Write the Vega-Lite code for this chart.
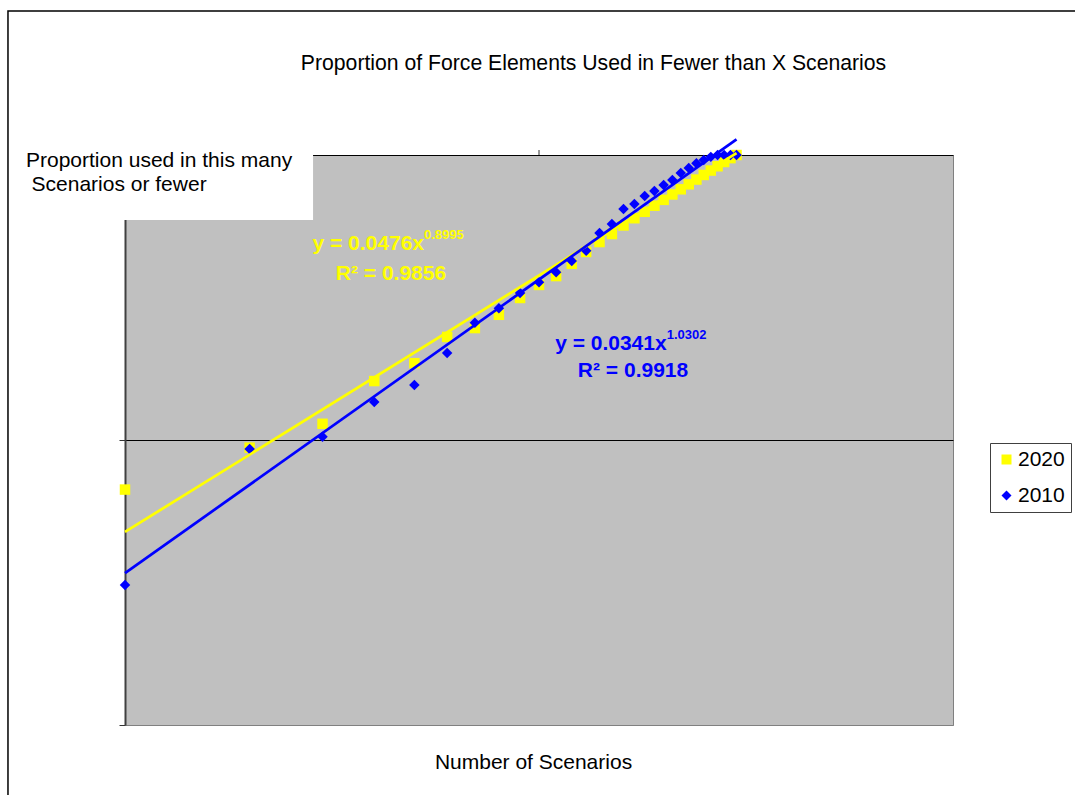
{
  "$schema": "https://vega.github.io/schema/vega-lite/v6.json",
  "width": 828,
  "height": 570,
  "autosize": {"type": "none"},
  "padding": {"left": 125, "top": 155, "right": 122, "bottom": 70},
  "background": "white",
  "datasets": {
    "points": [
      {"series": "2020", "x": 1, "y": 0.067},
      {"series": "2020", "x": 2, "y": 0.094},
      {"series": "2020", "x": 3, "y": 0.114},
      {"series": "2020", "x": 4, "y": 0.161},
      {"series": "2020", "x": 5, "y": 0.186},
      {"series": "2020", "x": 6, "y": 0.230},
      {"series": "2020", "x": 7, "y": 0.247},
      {"series": "2020", "x": 8, "y": 0.275},
      {"series": "2020", "x": 9, "y": 0.315},
      {"series": "2020", "x": 10, "y": 0.350},
      {"series": "2020", "x": 11, "y": 0.376},
      {"series": "2020", "x": 12, "y": 0.415},
      {"series": "2020", "x": 13, "y": 0.457},
      {"series": "2020", "x": 14, "y": 0.495},
      {"series": "2020", "x": 15, "y": 0.528},
      {"series": "2020", "x": 16, "y": 0.566},
      {"series": "2020", "x": 17, "y": 0.600},
      {"series": "2020", "x": 18, "y": 0.632},
      {"series": "2020", "x": 19, "y": 0.664},
      {"series": "2020", "x": 20, "y": 0.696},
      {"series": "2020", "x": 21, "y": 0.727},
      {"series": "2020", "x": 22, "y": 0.758},
      {"series": "2020", "x": 23, "y": 0.789},
      {"series": "2020", "x": 24, "y": 0.820},
      {"series": "2020", "x": 25, "y": 0.851},
      {"series": "2020", "x": 26, "y": 0.882},
      {"series": "2020", "x": 27, "y": 0.913},
      {"series": "2020", "x": 28, "y": 0.945},
      {"series": "2020", "x": 29, "y": 0.975},
      {"series": "2020", "x": 30, "y": 1.0},
      {"series": "2010", "x": 1, "y": 0.031},
      {"series": "2010", "x": 2, "y": 0.093},
      {"series": "2010", "x": 3, "y": 0.1027},
      {"series": "2010", "x": 4, "y": 0.136},
      {"series": "2010", "x": 5, "y": 0.156},
      {"series": "2010", "x": 6, "y": 0.202},
      {"series": "2010", "x": 7, "y": 0.258},
      {"series": "2010", "x": 8, "y": 0.290},
      {"series": "2010", "x": 9, "y": 0.328},
      {"series": "2010", "x": 10, "y": 0.358},
      {"series": "2010", "x": 11, "y": 0.388},
      {"series": "2010", "x": 12, "y": 0.425},
      {"series": "2010", "x": 13, "y": 0.461},
      {"series": "2010", "x": 14, "y": 0.532},
      {"series": "2010", "x": 15, "y": 0.573},
      {"series": "2010", "x": 16, "y": 0.647},
      {"series": "2010", "x": 17, "y": 0.673},
      {"series": "2010", "x": 18, "y": 0.718},
      {"series": "2010", "x": 19, "y": 0.748},
      {"series": "2010", "x": 20, "y": 0.785},
      {"series": "2010", "x": 21, "y": 0.817},
      {"series": "2010", "x": 22, "y": 0.865},
      {"series": "2010", "x": 23, "y": 0.900},
      {"series": "2010", "x": 24, "y": 0.935},
      {"series": "2010", "x": 25, "y": 0.960},
      {"series": "2010", "x": 26, "y": 0.985},
      {"series": "2010", "x": 27, "y": 1.0},
      {"series": "2010", "x": 28, "y": 1.0},
      {"series": "2010", "x": 29, "y": 1.0},
      {"series": "2010", "x": 30, "y": 1.0}
    ],
    "trend": [
      {"series": "2020", "x": 1, "y": 0.0476},
      {"series": "2020", "x": 30, "y": 1.015},
      {"series": "2010", "x": 1, "y": 0.0341},
      {"series": "2010", "x": 30, "y": 1.134}
    ]
  },
  "layer": [
    {
      "data": {"values": [{}]},
      "mark": {"type": "rect", "fill": "#ffffff", "strokeWidth": 0},
      "encoding": {
        "x": {"datum": 0.5246}, "x2": {"datum": 2.846},
        "y": {"datum": 1.016}, "y2": {"datum": 0.5914}
      }
    },
    {
      "data": {"values": [{}]},
      "mark": {"type": "text", "text": "Proportion used in this many", "align": "left", "baseline": "alphabetic", "fontSize": 21, "color": "#000000", "font": "Liberation Sans"},
      "encoding": {"x": {"datum": 0.5766}, "y": {"datum": 0.9098}}
    },
    {
      "data": {"values": [{}]},
      "mark": {"type": "text", "text": "Scenarios or fewer", "align": "left", "baseline": "alphabetic", "fontSize": 21, "color": "#000000", "font": "Liberation Sans"},
      "encoding": {"x": {"datum": 0.5947}, "y": {"datum": 0.7493}}
    },
    {
      "data": {"values": [{}]},
      "mark": {"type": "text", "text": "Proportion of Force Elements Used in Fewer than X Scenarios", "align": "center", "baseline": "alphabetic", "fontSize": 21.2, "color": "#000000", "font": "Liberation Sans"},
      "encoding": {"x": {"datum": 13.54}, "y": {"datum": 1.987}}
    },
    {
      "data": {"name": "points"},
      "mark": {"type": "point", "filled": true, "opacity": 1, "size": 110, "strokeWidth": 0},
      "encoding": {
        "x": {
          "field": "x", "type": "quantitative",
          "scale": {"type": "log", "domain": [1, 100], "nice": false},
          "axis": {"title": "Number of Scenarios", "labels": false, "ticks": false, "domain": false, "grid": false, "titleFontSize": 21, "titleFontWeight": "normal", "titleColor": "#000000", "titleFont": "Liberation Sans", "titleX": 408, "titleY": 43, "titleAlign": "center", "titleBaseline": "alphabetic", "titleAngle": 0}
        },
        "y": {
          "field": "y", "type": "quantitative",
          "scale": {"type": "log", "domain": [0.01, 1], "nice": false},
          "axis": {"title": null, "labels": false, "values": [0.01, 0.1, 1], "tickSize": 6, "tickColor": "#333333", "tickWidth": 1, "domainColor": "#404040", "domainWidth": 2, "grid": true, "gridColor": {"condition": {"test": "datum.value < 0.05", "value": "#808080"}, "value": "#000000"}, "gridWidth": 1, "gridOpacity": 1}
        },
        "color": {
          "field": "series", "type": "nominal",
          "scale": {"domain": ["2020", "2010"], "range": ["#ffff00", "#0000ff"]},
          "legend": {"title": null, "orient": "none", "legendX": 865, "legendY": 288, "labelFontSize": 21, "labelFont": "Liberation Sans", "labelColor": "#000000", "strokeColor": "#404040", "fillColor": "#ffffff", "padding": 6, "rowPadding": 14, "symbolSize": 100, "labelOffset": 1, "symbolStrokeWidth": 0}
        },
        "shape": {
          "field": "series", "type": "nominal",
          "scale": {"domain": ["2020", "2010"], "range": ["square", "diamond"]},
          "legend": {"title": null, "orient": "none", "legendX": 865, "legendY": 288, "labelFontSize": 21, "labelFont": "Liberation Sans", "labelColor": "#000000", "strokeColor": "#404040", "fillColor": "#ffffff", "padding": 6, "rowPadding": 14, "symbolSize": 100, "labelOffset": 1, "symbolStrokeWidth": 0}
        }
      }
    },
    {
      "data": {"name": "trend"},
      "transform": [{"filter": "datum.series === '2020'"}],
      "mark": {"type": "line", "color": "#ffff00", "strokeWidth": 2.75},
      "encoding": {
        "x": {"field": "x", "type": "quantitative"},
        "y": {"field": "y", "type": "quantitative"}
      }
    },
    {
      "data": {"name": "trend"},
      "transform": [{"filter": "datum.series === '2010'"}],
      "mark": {"type": "line", "color": "#0000ff", "strokeWidth": 2.75},
      "encoding": {
        "x": {"field": "x", "type": "quantitative"},
        "y": {"field": "y", "type": "quantitative"}
      }
    },
    {
      "data": {"values": [{}]},
      "mark": {"type": "text", "text": "y = 0.0476x", "align": "right", "baseline": "alphabetic", "fontSize": 21, "fontWeight": "bold", "color": "#ffff00", "font": "Liberation Sans"},
      "encoding": {"x": {"datum": 5.275}, "y": {"datum": 0.4642}}
    },
    {
      "data": {"values": [{}]},
      "mark": {"type": "text", "text": "0.8995", "align": "left", "baseline": "alphabetic", "fontSize": 13, "fontWeight": "bold", "color": "#ffff00", "font": "Liberation Sans"},
      "encoding": {"x": {"datum": 5.275}, "y": {"datum": 0.5074}}
    },
    {
      "data": {"values": [{}]},
      "mark": {"type": "text", "text": "R² = 0.9856", "align": "center", "baseline": "alphabetic", "fontSize": 21, "fontWeight": "bold", "color": "#ffff00", "font": "Liberation Sans"},
      "encoding": {"x": {"datum": 4.39}, "y": {"datum": 0.364}}
    },
    {
      "data": {"values": [{}]},
      "mark": {"type": "text", "text": "y = 0.0341x", "align": "right", "baseline": "alphabetic", "fontSize": 21, "fontWeight": "bold", "color": "#0000ff", "font": "Liberation Sans"},
      "encoding": {"x": {"datum": 20.34}, "y": {"datum": 0.2069}}
    },
    {
      "data": {"values": [{}]},
      "mark": {"type": "text", "text": "1.0302", "align": "left", "baseline": "alphabetic", "fontSize": 13, "fontWeight": "bold", "color": "#0000ff", "font": "Liberation Sans"},
      "encoding": {"x": {"datum": 20.34}, "y": {"datum": 0.2262}}
    },
    {
      "data": {"values": [{}]},
      "mark": {"type": "text", "text": "R² = 0.9918", "align": "center", "baseline": "alphabetic", "fontSize": 21, "fontWeight": "bold", "color": "#0000ff", "font": "Liberation Sans"},
      "encoding": {"x": {"datum": 16.87}, "y": {"datum": 0.166}}
    },
    {
      "data": {"values": [{}]},
      "mark": {"type": "rule", "color": "#333333", "strokeWidth": 1},
      "encoding": {"x": {"datum": 10}, "y": {"datum": 1}, "y2": {"datum": 1.041}}
    },
    {
      "data": {"values": [{}]},
      "mark": {"type": "rect", "fill": "#ffffff", "fillOpacity": 0, "stroke": "#000000", "strokeWidth": 1.5},
      "encoding": {
        "x": {"datum": 0.5216}, "x2": {"datum": 208.4},
        "y": {"datum": 3.201}, "y2": {"datum": 0.005239}
      }
    }
  ],
  "config": {
    "font": "Liberation Sans",
    "view": {"fill": "#c0c0c0", "stroke": "#808080", "strokeWidth": 1}
  }
}
